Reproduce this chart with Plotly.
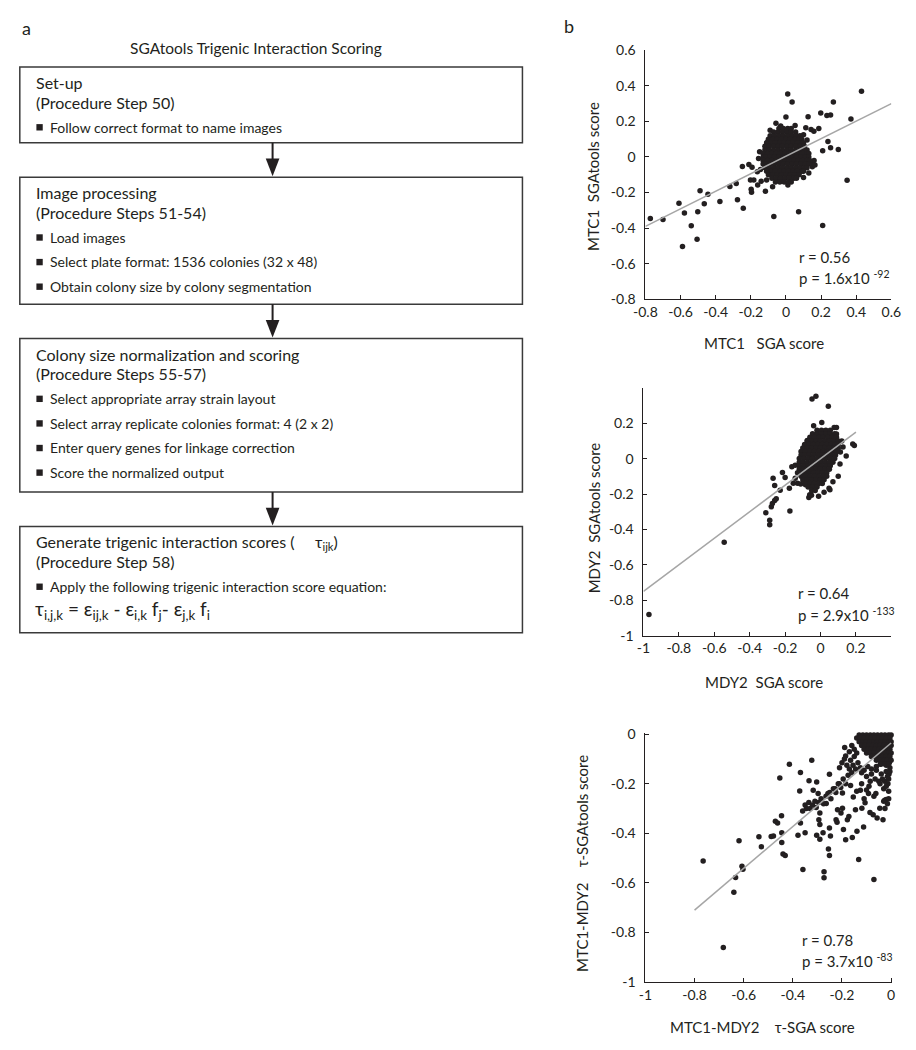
import plotly.graph_objects as go

W, H = 916, 1050
FONT = "Lato, 'Open Sans', sans-serif"
INK = "#231f20"


def px(x):
    return x / W


def py(y):
    return 1 - y / H


# ---------------- data: panel a (flowchart text) ----------------
flow_title = "SGAtools Trigenic Interaction Scoring"
box_headers = [
    ["Set-up", "(Procedure Step 50)"],
    ["Image processing", "(Procedure Steps 51-54)"],
    ["Colony size normalization and scoring", "(Procedure Steps 55-57)"],
    ["Generate trigenic interaction scores (\u00a0\u00a0\u00a0\u00a0 \u03c4<sub>ijk</sub>)", "(Procedure Step 58)"],
]
box_bullets = [
    ["Follow correct format to name images"],
    ["Load images", "Select plate format: 1536 colonies (32 x 48)",
     "Obtain colony size by colony segmentation"],
    ["Select appropriate array strain layout",
     "Select array replicate colonies format: 4 (2 x 2)",
     "Enter query genes for linkage correction",
     "Score the normalized output"],
    ["Apply the following trigenic interaction score equation:"],
]
equation = ("\u03c4<sub>i,j,k</sub> = \u03b5<sub>ij,k</sub> - \u03b5<sub>i,k</sub> f<sub>j</sub>"
            "- \u03b5<sub>j,k</sub> f<sub>i</sub>")

# ---------------- data: panel b ----------------
# MTC1: (SGA score, SGAtools score), scattered points
mtc1_points = [
    (0.43, 0.37), (0.01, 0.355), (0.035, 0.31), (0.27, 0.31), (0.0, 0.225), (-0.057, 0.19),
    (0.126, 0.227), (0.198, 0.247), (0.233, 0.234), (0.254, 0.236), (0.37, 0.214), (0.052, 0.177),
    (0.143, 0.155), (0.159, 0.145), (0.187, 0.16), (0.113, 0.164), (0.239, 0.087), (0.209, 0.035),
    (0.254, 0.052), (0.298, 0.042), (-0.106, 0.081), (-0.11, 0.055), (-0.156, -0.009),
    (-0.248, -0.053), (-0.211, -0.042), (-0.193, -0.057), (-0.163, -0.083), (-0.202, -0.129),
    (-0.183, -0.129), (-0.198, -0.182), (-0.196, -0.199), (-0.161, -0.158), (-0.117, -0.192),
    (-0.141, -0.136), (-0.11, -0.129), (-0.076, -0.168), (-0.04, -0.13), (0.011, -0.158),
    (0.348, -0.131), (-0.319, -0.166), (-0.283, -0.149), (-0.276, -0.241), (-0.243, -0.289),
    (-0.376, -0.25), (-0.444, -0.21), (-0.489, -0.19), (-0.465, -0.263), (-0.609, -0.26),
    (-0.578, -0.315), (-0.502, -0.308), (-0.539, -0.387), (-0.506, -0.462), (-0.589, -0.503),
    (-0.772, -0.346), (-0.7, -0.352), (-0.069, -0.335), (0.072, -0.308), (0.209, -0.385),
    (0.145, -0.03), (0.15, -0.055), (0.16, -0.02), (0.13, -0.09), (0.165, -0.045), (0.1, -0.115),
    (-0.145, -0.07), (-0.15, 0.03), (0.1, 0.125), (0.12, 0.095), (-0.09, 0.15), (-0.03, 0.175),
]
# MTC1 dense core: (SGAtools score row, SGA scores in that row)
mtc1_core = [
    (0.16, [-0.04, -0.015, 0.01, 0.03]),
    (0.14, [-0.07, -0.045, -0.02, 0.005, 0.03, 0.055]),
    (0.12, [-0.09, -0.065, -0.04, -0.015, 0.01, 0.035, 0.06, 0.08]),
    (0.10, [-0.10, -0.075, -0.05, -0.025, 0.0, 0.025, 0.05, 0.075, 0.09]),
    (0.08, [-0.11, -0.085, -0.06, -0.035, -0.01, 0.015, 0.04, 0.065, 0.09, 0.10]),
    (0.06, [-0.12, -0.095, -0.07, -0.045, -0.02, 0.005, 0.03, 0.055, 0.08, 0.105]),
    (0.04, [-0.12, -0.095, -0.07, -0.045, -0.02, 0.005, 0.03, 0.055, 0.08, 0.105, 0.12]),
    (0.02, [-0.13, -0.105, -0.08, -0.055, -0.03, -0.005, 0.02, 0.045, 0.07, 0.095, 0.12, 0.13]),
    (0.00, [-0.13, -0.115, -0.09, -0.065, -0.04, -0.015, 0.01, 0.035, 0.06, 0.085, 0.11, 0.13]),
    (-0.02, [-0.13, -0.105, -0.08, -0.055, -0.03, -0.005, 0.02, 0.045, 0.07, 0.095, 0.12, 0.135]),
    (-0.04, [-0.13, -0.115, -0.09, -0.065, -0.04, -0.015, 0.01, 0.035, 0.06, 0.085, 0.11, 0.13]),
    (-0.06, [-0.12, -0.095, -0.07, -0.045, -0.02, 0.005, 0.03, 0.055, 0.08, 0.105, 0.12]),
    (-0.08, [-0.11, -0.085, -0.06, -0.035, -0.01, 0.015, 0.04, 0.065, 0.09, 0.10]),
    (-0.10, [-0.10, -0.075, -0.05, -0.025, 0.0, 0.025, 0.05, 0.075]),
    (-0.12, [-0.08, -0.055, -0.03, -0.005, 0.02, 0.045, 0.06]),
    (-0.14, [-0.06, -0.035, -0.01, 0.015, 0.03]),
]
mtc1_fit_x = [-0.8, 0.6]
mtc1_fit_y = [-0.39, 0.30]

# MDY2: (SGA score, SGAtools score)
mdy2_points = [
    (-0.969, -0.88), (-0.544, -0.472), (-0.309, -0.306), (-0.287, -0.348), (-0.287, -0.374),
    (-0.278, -0.272), (-0.272, -0.254), (-0.259, -0.237), (-0.25, -0.226), (-0.268, -0.111),
    (-0.259, -0.152), (-0.2, -0.106), (-0.215, -0.078), (-0.176, -0.167), (-0.173, -0.296),
    (-0.228, -0.178), (-0.162, -0.046), (-0.143, -0.037), (-0.143, -0.111), (-0.154, -0.139),
    (-0.13, -0.139), (-0.112, -0.144), (-0.085, -0.148), (-0.066, -0.219), (-0.061, -0.204),
    (-0.051, -0.207), (-0.011, -0.213), (0.048, -0.167), (0.053, -0.176), (0.1, -0.1),
    (0.145, 0.015), (0.127, 0.065), (0.182, 0.083), (0.191, 0.074), (0.112, 0.037),
    (-0.048, 0.337), (-0.026, 0.352), (0.044, 0.296), (0.007, 0.204), (-0.039, 0.185),
    (0.077, 0.176), (0.09, 0.176), (-0.029, 0.107), (-0.075, 0.102), (0.09, 0.139), (0.026, 0.157),
    (0.11, -0.03), (0.12, 0.1), (-0.13, -0.08), (0.07, -0.13), (0.02, -0.19),
]
mdy2_core = [
    (0.16, [-0.02, 0.005, 0.03, 0.055]),
    (0.14, [-0.045, -0.02, 0.005, 0.03, 0.055, 0.08]),
    (0.12, [-0.06, -0.035, -0.01, 0.015, 0.04, 0.065, 0.09]),
    (0.10, [-0.075, -0.05, -0.025, 0.0, 0.025, 0.05, 0.075, 0.10]),
    (0.08, [-0.09, -0.065, -0.04, -0.015, 0.01, 0.035, 0.06, 0.085, 0.10]),
    (0.06, [-0.10, -0.075, -0.05, -0.025, 0.0, 0.025, 0.05, 0.075, 0.10]),
    (0.04, [-0.11, -0.085, -0.06, -0.035, -0.01, 0.015, 0.04, 0.065, 0.09]),
    (0.02, [-0.11, -0.09, -0.065, -0.04, -0.015, 0.01, 0.035, 0.06, 0.085]),
    (0.00, [-0.12, -0.095, -0.07, -0.045, -0.02, 0.005, 0.03, 0.055, 0.08]),
    (-0.02, [-0.12, -0.10, -0.075, -0.05, -0.025, 0.0, 0.025, 0.05, 0.07]),
    (-0.04, [-0.12, -0.095, -0.07, -0.045, -0.02, 0.005, 0.03, 0.055]),
    (-0.06, [-0.12, -0.10, -0.075, -0.05, -0.025, 0.0, 0.025, 0.05]),
    (-0.08, [-0.115, -0.09, -0.065, -0.04, -0.015, 0.01, 0.035]),
    (-0.10, [-0.11, -0.085, -0.06, -0.035, -0.01, 0.015, 0.035]),
    (-0.12, [-0.10, -0.075, -0.05, -0.025, 0.0, 0.02]),
    (-0.14, [-0.085, -0.06, -0.035, -0.01, 0.01]),
    (-0.16, [-0.07, -0.045, -0.02]),
    (-0.18, [-0.05, -0.03]),
]
mdy2_fit_x = [-1.0, 0.2]
mdy2_fit_y = [-0.75, 0.15]

# MTC1-MDY2: (tau-SGA score, tau-SGAtools score)
tau_points = [
    (-0.765, -0.512), (-0.683, -0.861), (-0.619, -0.43), (-0.633, -0.578), (-0.64, -0.638),
    (-0.607, -0.533), (-0.603, -0.545), (-0.538, -0.414), (-0.528, -0.454), (-0.488, -0.413),
    (-0.479, -0.411), (-0.471, -0.351), (-0.462, -0.358), (-0.446, -0.329), (-0.453, -0.176),
    (-0.414, -0.121), (-0.445, -0.397), (-0.445, -0.437), (-0.44, -0.483), (-0.431, -0.489),
    (-0.369, -0.154), (-0.372, -0.229), (-0.379, -0.408), (-0.369, -0.358), (-0.359, -0.546),
    (-0.35, -0.397), (-0.334, -0.187), (-0.323, -0.105), (-0.303, -0.193), (-0.317, -0.226),
    (-0.297, -0.239), (-0.29, -0.318), (-0.294, -0.345), (-0.29, -0.364), (-0.303, -0.408),
    (-0.29, -0.424), (-0.277, -0.397), (-0.273, -0.555), (-0.273, -0.579), (-0.264, -0.279),
    (-0.257, -0.239), (-0.251, -0.161), (-0.251, -0.378), (-0.255, -0.463), (-0.251, -0.489),
    (-0.247, -0.411), (-0.228, -0.22), (-0.224, -0.345), (-0.218, -0.305), (-0.22, -0.355),
    (-0.211, -0.2), (-0.198, -0.237), (-0.198, -0.299), (-0.204, -0.318), (-0.194, -0.384),
    (-0.189, -0.053), (-0.185, -0.088), (-0.185, -0.426), (-0.178, -0.345), (-0.172, -0.332),
    (-0.165, -0.207), (-0.158, -0.417), (-0.154, -0.253), (-0.145, -0.305), (-0.139, -0.391),
    (-0.132, -0.505), (-0.125, -0.226), (-0.119, -0.299), (-0.106, -0.276), (-0.112, -0.374),
    (-0.092, -0.239), (-0.086, -0.316), (-0.073, -0.325), (-0.07, -0.586), (-0.062, -0.239),
    (-0.057, -0.338), (-0.046, -0.299), (-0.033, -0.345), (-0.026, -0.266), (-0.02, -0.263),
    (-0.013, -0.2), (-0.007, -0.114), (-0.009, -0.161), (-0.026, -0.189), (-0.044, -0.121),
    # band along the fit line
    (-0.36, -0.31), (-0.35, -0.285), (-0.345, -0.30), (-0.335, -0.275), (-0.33, -0.30),
    (-0.32, -0.285), (-0.31, -0.27), (-0.305, -0.295), (-0.295, -0.275), (-0.285, -0.26),
    (-0.275, -0.28), (-0.265, -0.25), (-0.25, -0.235), (-0.245, -0.26), (-0.235, -0.22),
    (-0.225, -0.235), (-0.215, -0.2), (-0.205, -0.215), (-0.195, -0.18), (-0.185, -0.2),
    (-0.175, -0.165), (-0.17, -0.14), (-0.16, -0.155), (-0.155, -0.125), (-0.145, -0.14),
    (-0.135, -0.115), (-0.21, -0.135), (-0.2, -0.115), (-0.19, -0.1), (-0.18, -0.125),
    (-0.165, -0.105), (-0.15, -0.09), (-0.14, -0.075), (-0.17, -0.07), (-0.16, -0.045),
    (-0.15, -0.06), (-0.125, -0.135), (-0.11, -0.145), (-0.095, -0.13), (-0.08, -0.14),
    (-0.12, -0.155), (-0.10, -0.17), (-0.08, -0.16), (-0.06, -0.145), (-0.04, -0.16),
    (-0.02, -0.15), (-0.12, -0.20), (-0.09, -0.21), (-0.05, -0.19), (-0.03, -0.22),
    (-0.01, -0.18), (-0.14, -0.23), (-0.11, -0.26), (-0.07, -0.25), (-0.03, -0.27),
    (-0.01, -0.26), (-0.06, -0.13), (-0.02, -0.125), (-0.005, -0.135), (-0.005, -0.15),
    (-0.015, -0.17), (-0.02, -0.21), (-0.01, -0.23), (-0.025, -0.30), (-0.015, -0.28),
    (-0.035, -0.18), (-0.045, -0.2), (-0.065, -0.18), (-0.085, -0.19), (-0.1, -0.225),
]
# MTC1-MDY2 dense corner: (tau-SGAtools row, tau-SGA scores in that row)
tau_core = [
    (-0.003, [-0.13, -0.115, -0.10, -0.085, -0.07, -0.055, -0.04, -0.025, -0.01, 0.0]),
    (-0.015, [-0.14, -0.125, -0.11, -0.095, -0.08, -0.065, -0.05, -0.035, -0.02, -0.005]),
    (-0.03, [-0.13, -0.115, -0.10, -0.085, -0.07, -0.055, -0.04, -0.025, -0.01, 0.0]),
    (-0.045, [-0.12, -0.105, -0.09, -0.075, -0.06, -0.045, -0.03, -0.015, 0.0]),
    (-0.06, [-0.11, -0.095, -0.08, -0.065, -0.05, -0.035, -0.02, -0.005]),
    (-0.075, [-0.10, -0.085, -0.07, -0.055, -0.04, -0.025, -0.01, 0.0]),
    (-0.09, [-0.08, -0.065, -0.05, -0.035, -0.02, -0.005]),
    (-0.105, [-0.06, -0.045, -0.03, -0.015, 0.0]),
    (-0.12, [-0.04, -0.025, -0.01]),
]
tau_fit_x = [-0.8, 0.0]
tau_fit_y = [-0.71, -0.035]

stats_text = [
    ("r = 0.56", "p = 1.6x10 <sup>-92</sup>"),
    ("r = 0.64", "p = 2.9x10 <sup>-133</sup>"),
    ("r = 0.78", "p = 3.7x10 <sup>-83</sup>"),
]
x_titles = ["MTC1\u00a0\u00a0 SGA score", "MDY2\u00a0 SGA score",
            "MTC1-MDY2\u00a0\u00a0\u00a0 \u03c4-SGA score"]
y_titles = ["MTC1\u00a0 SGAtools score", "MDY2\u00a0 SGAtools score",
            "MTC1-MDY2\u00a0\u00a0\u00a0 \u03c4-SGAtools score"]

ticks_08 = [-0.8, -0.6, -0.4, -0.2, 0, 0.2, 0.4, 0.6]
ticks_1a = [-1, -0.8, -0.6, -0.4, -0.2, 0, 0.2]
ticks_1b = [-1, -0.8, -0.6, -0.4, -0.2, 0]


def lab(v):
    if v == 0:
        return "0"
    if v == int(v):
        return str(int(v))
    return f"{v:g}"


def merge(points, core):
    xs = [a for a, b in points]
    ys = [b for a, b in points]
    for yrow, xrow in core:
        xs.extend(xrow)
        ys.extend([yrow] * len(xrow))
    return xs, ys


# ---------------- figure ----------------
fig = go.Figure()

panels = [
    dict(pts=mtc1_points, core=mtc1_core, fx=mtc1_fit_x, fy=mtc1_fit_y, xs="x", ys="y"),
    dict(pts=mdy2_points, core=mdy2_core, fx=mdy2_fit_x, fy=mdy2_fit_y, xs="x2", ys="y2"),
    dict(pts=tau_points, core=tau_core, fx=tau_fit_x, fy=tau_fit_y, xs="x3", ys="y3"),
]
for p in panels:
    xs, ys = merge(p["pts"], p["core"])
    fig.add_trace(go.Scatter(x=xs, y=ys, mode="markers", xaxis=p["xs"], yaxis=p["ys"],
                             marker=dict(color=INK, size=5.5, line=dict(width=0)),
                             showlegend=False, hoverinfo="skip", cliponaxis=False))
    fig.add_trace(go.Scatter(x=p["fx"], y=p["fy"], mode="lines", xaxis=p["xs"], yaxis=p["ys"],
                             line=dict(color="#a6a6a6", width=1.5), showlegend=False,
                             hoverinfo="skip"))

# axes geometry in pixels: (left, right, top, bottom)
geo = [(649, 901, 42, 295), (647, 901, 385, 637), (649, 902, 736, 989)]
ranges = [((-0.8, 0.6), (-0.8, 0.6), ticks_08, ticks_08),
          ((-1, 0.4), (-1, 0.4), ticks_1a, ticks_1a),
          ((-1, 0.005), (-1, 0.005), ticks_1b, ticks_1b)]

axis_common = dict(showline=True, linecolor=INK, linewidth=1, ticks="inside", ticklen=4,
                   tickcolor=INK, tickwidth=1, showgrid=False, zeroline=False,
                   tickfont=dict(family=FONT, size=14, color=INK), fixedrange=True)
for i, ((l, r, t, b), (xr, yr, xt, yt)) in enumerate(zip(geo, ranges)):
    sfx = "" if i == 0 else str(i + 1)
    fig.update_layout(**{
        "xaxis" + sfx: dict(domain=[px(l), px(r)], range=list(xr), anchor="y" + sfx,
                            tickvals=xt, ticktext=[lab(v) for v in xt], **axis_common),
        "yaxis" + sfx: dict(domain=[py(b), py(t)], range=list(yr), anchor="x" + sfx,
                            tickvals=yt, ticktext=[lab(v) for v in yt], ticklabelstandoff=6,
                            **axis_common),
    })

annotations = []
shapes = []


def text(x, y, s, size=15, xanchor="left", angle=0, yanchor="middle"):
    annotations.append(dict(x=px(x), y=py(y), xref="paper", yref="paper", text=s,
                            showarrow=False, xanchor=xanchor, yanchor=yanchor, textangle=angle,
                            font=dict(family=FONT, size=size, color=INK)))


# panel labels
text(8, 19, "a", size=18)
text(564, 17, "b", size=18)

# flowchart
text(250, 40, flow_title, size=15.5, xanchor="center")
boxes = [(59, 136), (171, 300), (335, 491), (526, 634)]
BL, BR = 8, 523
for i, (top, bot) in enumerate(boxes):
    shapes.append(dict(type="rect", xref="paper", yref="paper", x0=px(BL), x1=px(BR),
                       y0=py(bot), y1=py(top), line=dict(color="#3a3a3a", width=1.5)))
    for j, h in enumerate(box_headers[i]):
        text(23, top + 16 + 20 * j, h, size=16)
    for k, bl in enumerate(box_bullets[i]):
        yy = top + 61 + 25 * k
        shapes.append(dict(type="rect", xref="paper", yref="paper", x0=px(25), x1=px(31.5),
                           y0=py(yy + 3.5), y1=py(yy - 3), fillcolor=INK, line=dict(width=0)))
        text(37, yy, bl, size=14)
    if i < len(boxes) - 1:
        nxt = boxes[i + 1][0]
        ax = 267
        shapes.append(dict(type="line", xref="paper", yref="paper", x0=px(ax), x1=px(ax),
                           y0=py(bot), y1=py(nxt - 16), line=dict(color=INK, width=2)))
        path = (f"M {px(ax - 7)} {py(nxt - 19)} L {px(ax + 7)} {py(nxt - 19)} "
                f"L {px(ax)} {py(nxt - 1)} Z")
        shapes.append(dict(type="path", xref="paper", yref="paper", path=path,
                           fillcolor=INK, line=dict(width=0)))
text(22, 611, equation, size=19)

# scatter annotations
stat_pos = [(804, 252), (803, 594), (807, 946)]
for (sx, sy), (r_t, p_t) in zip(stat_pos, stats_text):
    text(sx, sy, r_t, size=15)
    text(sx, sy + 21, p_t, size=15)

xt_pos = [(770, 340), (770, 684), (769, 1035)]
for (tx, ty), s in zip(xt_pos, x_titles):
    text(tx, ty, s, size=15, xanchor="center")
yt_pos = [(596, 170), (596, 517), (584, 868)]
for (tx, ty), s in zip(yt_pos, y_titles):
    annotations.append(dict(x=px(tx), y=py(ty), xref="paper", yref="paper", text=s,
                            showarrow=False, xanchor="center", yanchor="middle", textangle=-90,
                            font=dict(family=FONT, size=15, color=INK)))

fig.update_layout(width=W, height=H, margin=dict(l=0, r=0, t=0, b=0),
                  paper_bgcolor="white", plot_bgcolor="white",
                  annotations=annotations, shapes=shapes, showlegend=False)

fig.write_html("out.html", config={"displayModeBar": False},
               post_script="document.body.style.margin='0px';")
